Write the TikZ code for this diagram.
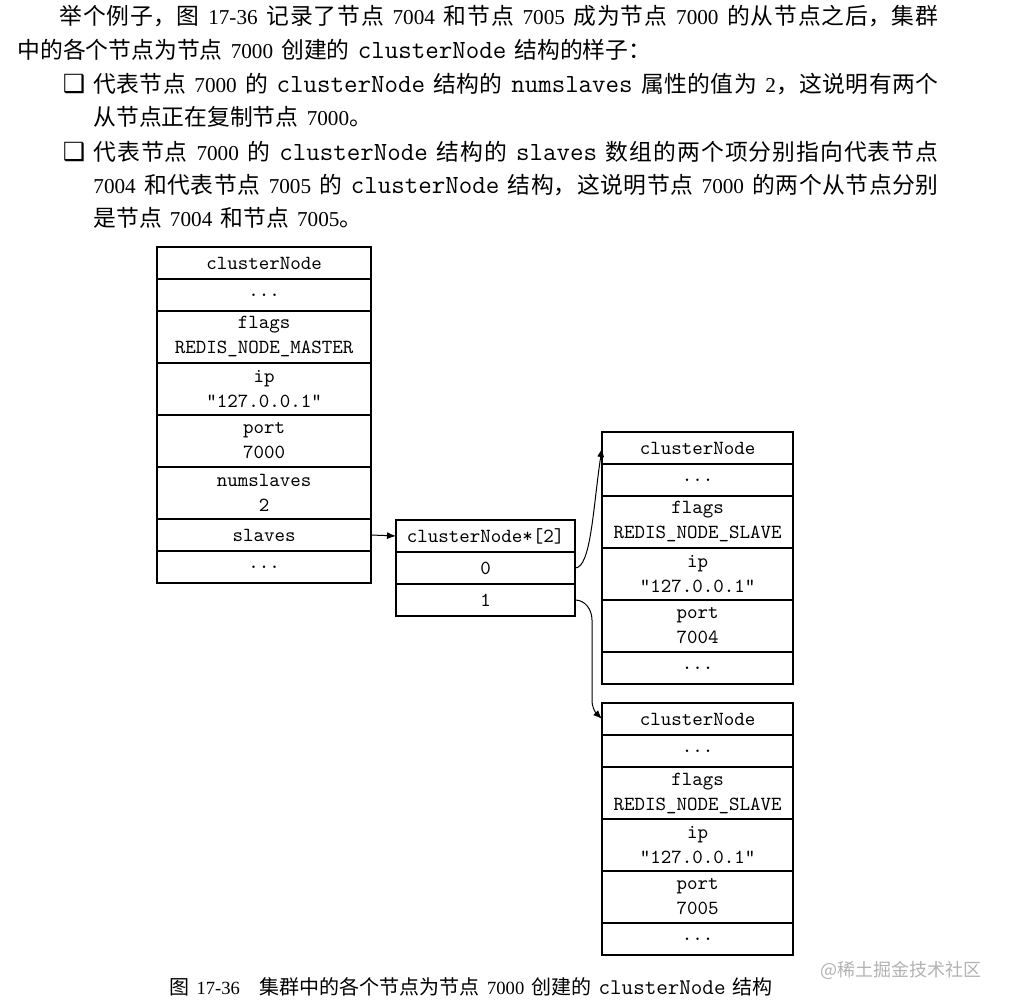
\documentclass[tikz,border=0pt]{standalone}
\usepackage{fontspec}
\setmainfont[WordSpace=1.6]{Noto Sans CJK SC}
\newfontfamily\numfont[Scale=0.93]{Liberation Serif}
\newfontfamily\symfont{DejaVu Sans}
\XeTeXlinebreaklocale "zh"
\XeTeXlinebreakskip=0pt plus 3pt
\usetikzlibrary{arrows.meta, positioning}

\newcommand{\nm}[1]{{\numfont #1}}
\newcommand{\cd}[2][13.1]{{\ttfamily\fontsize{#1}{14}\selectfont #2}}
\newcommand{\jline}[2]{\parbox{#1}{\parfillskip=0pt #2}} % one justified line

\begin{document}
\begin{tikzpicture}[
    x=0.5pt, y=-0.5pt, % one unit = one pixel of the page scan
    >={Latex[length=4.5pt, width=3.5pt]}, % arrow tips
    para/.style={anchor=west, inner sep=0pt, font=\fontsize{11.4}{14}\selectfont}, % text lines
    bullet/.style={inner sep=0pt, font=\symfont\fontsize{12.5}{12.5}\selectfont},
    cell/.style={draw, line width=0.6pt, inner sep=0pt, outer sep=0pt, minimum height=16pt,
        align=center, font=\ttfamily\fontsize{10}{12.5}\selectfont}, % one field of a struct
    twoline/.style={minimum height=26pt}, % field with name and value
    mcell/.style={cell, minimum width=107pt}, % master clusterNode
    acell/.style={cell, minimum width=89.5pt}, % slaves array
    scell/.style={cell, minimum width=95.5pt}, % slave clusterNode
    link/.style={->, line width=0.5pt}
]
    \useasboundingbox (0,0) rectangle (1013,1005);

    % Text above the figure
    \node[para] (l1) at (59,16) {\jline{439.5pt}{举个例子，图 \nm{17-36} 记录了节点 \nm{7004} 和节点 \nm{7005} 成为节点 \nm{7000} 的从节点之后，集群}};
    \node[para] (l2) at (17,50) {中的各个节点为节点 \nm{7000} 创建的 \cd{clusterNode} 结构的样子：};
    \node[bullet] (b1) at (74,84) {❑};
    \node[para] (l3) at (93,84) {\jline{422.5pt}{代表节点 \nm{7000} 的 \cd{clusterNode} 结构的 \cd{numslaves} 属性的值为 \nm{2}，这说明有两个}};
    \node[para] (l4) at (93,117) {从节点正在复制节点 \nm{7000}。};
    \node[bullet] (b2) at (74,152) {❑};
    \node[para] (l5) at (93,152) {\jline{422.5pt}{代表节点 \nm{7000} 的 \cd{clusterNode} 结构的 \cd{slaves} 数组的两个项分别指向代表节点}};
    \node[para] (l6) at (93,185) {\jline{422.5pt}{\nm{7004} 和代表节点 \nm{7005} 的 \cd{clusterNode} 结构，这说明节点 \nm{7000} 的两个从节点分别}};
    \node[para] (l7) at (93,218) {是节点 \nm{7004} 和节点 \nm{7005}。};

    % Master node 7000
    \node[mcell, anchor=north] (mhead) at (264,247) {clusterNode};
    \node[mcell, below=0pt of mhead] (mdotsa) {...};
    \node[mcell, twoline, below=0pt of mdotsa] (mflags) {flags\\REDIS\_NODE\_MASTER};
    \node[mcell, twoline, below=0pt of mflags] (mip) {ip\\"127.0.0.1"};
    \node[mcell, twoline, below=0pt of mip] (mport) {port\\7000};
    \node[mcell, twoline, below=0pt of mport] (mnum) {numslaves\\2};
    \node[mcell, below=0pt of mnum] (mslaves) {slaves};
    \node[mcell, below=0pt of mslaves] (mdotsb) {...};

    % slaves array
    \node[acell, anchor=north] (arrhead) at (485.5,520) {clusterNode*[2]};
    \node[acell, below=0pt of arrhead] (arr0) {0};
    \node[acell, below=0pt of arr0] (arr1) {1};

    % Slave nodes 7004 and 7005
    \foreach \s/\top/\port in {s1/432/7004, s2/703/7005} {
        \node[scell, anchor=north] (\s head) at (697.5,\top) {clusterNode};
        \node[scell, below=0pt of \s head] (\s dotsa) {...};
        \node[scell, twoline, below=0pt of \s dotsa] (\s flags) {flags\\REDIS\_NODE\_SLAVE};
        \node[scell, twoline, below=0pt of \s flags] (\s ip) {ip\\"127.0.0.1"};
        \node[scell, twoline, below=0pt of \s ip] (\s port) {port\\\port};
        \node[scell, below=0pt of \s port] (\s dotsb) {...};
    }

    % Pointers
    \draw[link] (mslaves.east) -- (arrhead.west);
    \draw[link] (arr0.east) .. controls +(16,0) and +(-9,60) .. (s1head.west);
    \draw[link] (arr1.east) to[out=0, in=90] ++(17,20) -- ++(0,80) to[out=-90, in=135] (s2head.west);

    % Caption and watermark
    \node[para, font=\fontsize{10}{12}\selectfont] (cap) at (169,987) {图 \nm{17-36}\quad 集群中的各个节点为节点 \nm{7000} 创建的 \cd[11.2]{clusterNode} 结构};
    \node[para, font=\fontsize{9}{11}\selectfont, text=black!30] (mark) at (820,970) {@稀土掘金技术社区};
\end{tikzpicture}
\end{document}
